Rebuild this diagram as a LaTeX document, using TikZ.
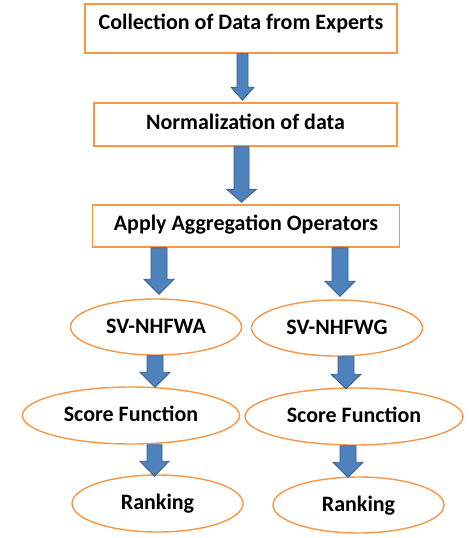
\documentclass[tikz,border=0pt]{standalone}
\usepackage{fontspec}
\setmainfont{Carlito}
\usetikzlibrary{calc,shapes.geometric}
\definecolor{boxorange}{HTML}{F79646}
\definecolor{arrowblue}{HTML}{4F81BD}
\definecolor{arrowedge}{HTML}{385D8A}
\tikzset{
  x=1pt,y=-1pt,
  lbl/.style={font=\fontsize{22}{24}\selectfont\bfseries, text=black, text height=14pt, text depth=1.5pt},
  stepbox/.style={draw=boxorange, line width=1.6pt, fill=white, rectangle, inner sep=0pt, lbl},
  oval/.style={draw=boxorange, line width=1.4pt, fill=white, ellipse, inner sep=0pt, lbl},
  blockarrow/.style={fill=arrowblue, draw=arrowedge, line width=0.8pt, line join=miter},
}
% block arrow from node #1 (bottom) to node #2 (top)
% #3 = x centre, #4 = half shaft, #5 = half head, #6 = head length, #7 = gap of the tip above #2
\newcommand{\blockarr}[7]{%
  \draw[blockarrow] let \p1=(#1.south), \p2=(#2.north) in
    ({#3pt-#4pt},\y1) -- ({#3pt+#4pt},\y1) -- ({#3pt+#4pt},{\y2+#7pt+#6pt})
    -- ({#3pt+#5pt},{\y2+#7pt+#6pt}) -- ({#3pt},{\y2+#7pt})
    -- ({#3pt-#5pt},{\y2+#7pt+#6pt}) -- ({#3pt-#4pt},{\y2+#7pt+#6pt}) -- cycle;}
\begin{document}
\begin{tikzpicture}
\useasboundingbox[fill=white] (0,0) rectangle (469,538);
% boxes
\node[stepbox, minimum width=312, minimum height=49, text depth=12.4pt] (b1) at (241,28.5) {Collection of Data from Experts};
\node[stepbox, minimum width=303, minimum height=43, text depth=4pt] (b2) at (245.5,124.5) {Normalization of data};
\node[stepbox, minimum width=307, minimum height=42, text depth=6pt] (b3) at (246,226) {Apply Aggregation Operators};
% ellipses
\node[oval, minimum width=171, minimum height=56] (wa) at (156,327) {SV-NHFWA};
\node[oval, minimum width=171, minimum height=56] (wg) at (337,328) {SV-NHFWG};
\node[oval, minimum width=217, minimum height=57] (s1) at (131,415.5) {Score Function};
\node[oval, minimum width=218, minimum height=57] (s2) at (354,416.5) {Score Function};
\node[oval, minimum width=171, minimum height=57] (r1) at (157.5,503.5) {Ranking};
\node[oval, minimum width=171, minimum height=56] (r2) at (358.5,505) {Ranking};
% block arrows
\blockarr{b1}{b2}{242.5}{5.5}{11.5}{13}{2}
\blockarr{b2}{b3}{241.5}{7.5}{15}{13}{2}
\blockarr{b3}{wa}{159}{8}{15}{15}{4}
\blockarr{b3}{wg}{340}{8}{15}{15}{3}
\blockarr{wa}{s1}{155}{8}{15}{15}{-1}
\blockarr{wg}{s2}{346}{8}{15}{14.5}{-1.5}
\blockarr{s1}{r1}{154.5}{7.5}{14.5}{15}{-2}
\blockarr{s2}{r2}{348}{8}{15}{15}{-1}
\end{tikzpicture}
\end{document}
